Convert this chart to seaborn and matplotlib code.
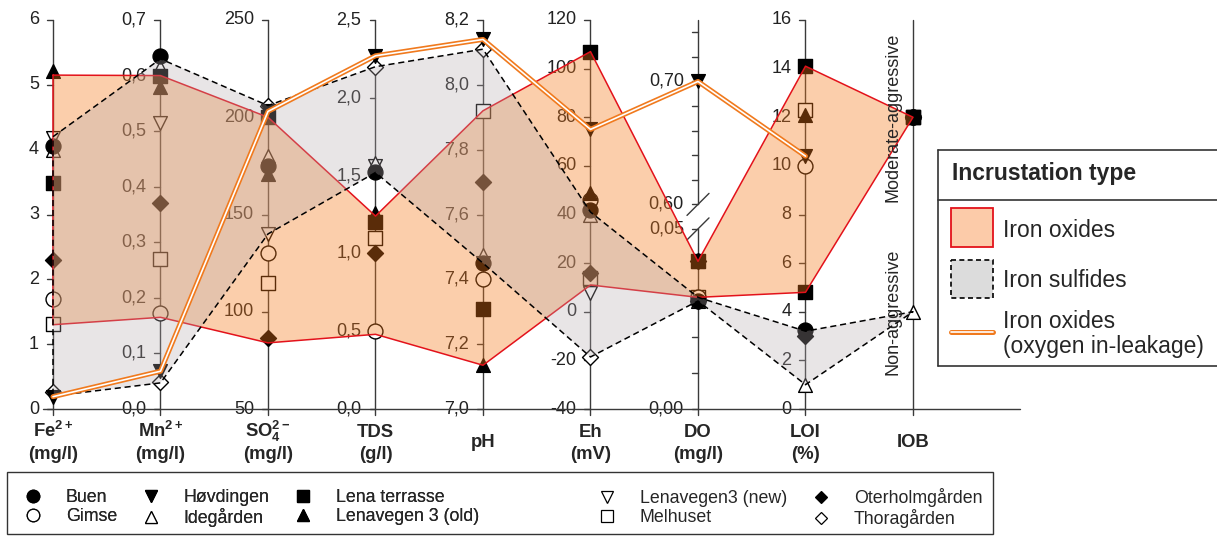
import numpy as np
import matplotlib
matplotlib.use("Agg")
import matplotlib.pyplot as plt
from matplotlib.lines import Line2D
from matplotlib.patches import Rectangle
import seaborn as sns

nan = np.nan

# parallel axes: Fe, Mn, SO4, TDS, pH, Eh, DO, LOI, IOB
axis_top = ["Fe$^{2+}$", "Mn$^{2+}$", "SO$_4^{2-}$", "TDS", "pH", "Eh", "DO", "LOI", "IOB"]
axis_unit = ["(mg/l)", "(mg/l)", "(mg/l)", "(g/l)", "", "(mV)", "(mg/l)", "(%)", ""]
axis_lo = [0, 0.0, 50, 0.0, 7.0, -40, 0.0, 0]
axis_hi = [6, 0.7, 250, 2.5, 8.2, 120, 0.75, 16]
axis_ticks = [
    [0, 1, 2, 3, 4, 5, 6],
    [0.0, 0.1, 0.2, 0.3, 0.4, 0.5, 0.6, 0.7],
    [50, 100, 150, 200, 250],
    [0.0, 0.5, 1.0, 1.5, 2.0, 2.5],
    [7.0, 7.2, 7.4, 7.6, 7.8, 8.0, 8.2],
    [-40, -20, 0, 20, 40, 60, 80, 100, 120],
    [0.00, 0.05, 0.60, 0.70],
    [0, 2, 4, 6, 8, 10, 12, 14, 16],
]
axis_decimals = [0, 1, 0, 1, 1, 0, 2, 0]
do_minor = [0.01, 0.02, 0.03, 0.04, 0.62, 0.64, 0.66, 0.68, 0.72, 0.74]
do_break = (0.05, 0.60)      # DO axis is broken between these values
do_split = (0.463, 0.526)    # axis fraction where the two DO pieces end / start

iob_levels = ["Non-aggressive", "Moderate-aggressive"]
iob_frac = [0.25, 0.75]

# site values on Fe, Mn, SO4, TDS, pH, Eh, DO, LOI
buen = [4.05, 0.635, 175, 1.52, 7.45, 42, 0.030, 3.25]
gimse = [1.70, 0.173, 130, 0.50, 7.40, 46, 0.031, 10.0]
hovdingen = [0.19, 0.068, 203, 2.27, 8.14, 75, 0.70, 10.4]
idegarden = [4.00, 0.615, 180, 1.58, 7.475, 40, 0.030, 1.0]
lena_terrasse = [3.49, 0.600, 200, 1.20, 7.31, 107, 0.041, 14.1]
lenavegen3_old = [5.21, 0.580, 171, 1.26, 7.135, 49, 0.041, 12.1]
lenavegen3_new = [4.18, 0.515, 140, 1.56, 7.45, 7.7, 0.030, nan]
melhuset = [1.31, 0.270, 115, 1.10, 7.92, 14, 0.031, 12.3]
oterholmgarden = [2.30, 0.370, 86.5, 1.00, 7.70, 16, 0.041, 3.0]
thoragarden = [0.26, 0.049, 206, 2.20, 8.11, -18.6, 0.030, nan]

site_names = ["Buen", "Gimse", "Høvdingen", "Idegården", "Lena terrasse",
              "Lenavegen 3 (old)", "Lenavegen3 (new)", "Melhuset",
              "Oterholmgården", "Thoragården"]
site_values = [buen, gimse, hovdingen, idegarden, lena_terrasse,
               lenavegen3_old, lenavegen3_new, melhuset, oterholmgarden, thoragarden]
site_iob = ["Moderate-aggressive", "Moderate-aggressive", "Moderate-aggressive",
            "Non-aggressive", "Moderate-aggressive", "Moderate-aggressive",
            None, "Moderate-aggressive", "Moderate-aggressive", None]
site_markers = ["o", "o", "v", "^", "s", "^", "v", "s", "D", "D"]
site_filled = [True, False, True, False, True, True, False, False, True, False]
# second LOI sample of Lena terrasse
extra_loi = [("Lena terrasse", 4.8)]

# envelopes of the incrustation types
oxide_upper = [5.15, 0.600, 200, 1.24, 7.92, 107, 0.041, 14.1]
oxide_lower = [1.30, 0.165, 84, 0.48, 7.135, 11, 0.031, 4.8]
oxide_iob = "Moderate-aggressive"
sulfide_upper = [4.20, 0.630, 206, 2.20, 8.11, 41, 0.031, 3.2]
sulfide_lower = [0.20, 0.047, 140, 1.52, 7.45, -18.6, 0.030, 1.0]
sulfide_iob = "Non-aggressive"

marker_size = {"o": 115, "s": 92, "^": 98, "v": 98, "D": 66}
legend_ms = {"o": 9, "s": 8, "^": 8.5, "v": 8.5, "D": 6.5}

oxide_fill = "#F57A1B"
oxide_edge = "#E3121B"
sulfide_fill = "#B4AAAF"
leak_color = "#F07A1E"
axis_color = "#3a3a3a"
text_color = "#222222"


def norm(k, val):
    if k == 6:
        if val <= do_break[0]:
            return val / do_break[0] * do_split[0]
        return do_split[1] + (val - do_break[1]) / (axis_hi[6] - do_break[1]) * (1 - do_split[1])
    return (val - axis_lo[k]) / (axis_hi[k] - axis_lo[k])


def profile(values, iob):
    last = iob_frac[iob_levels.index(iob)] if iob else nan
    return [norm(k, v) for k, v in enumerate(values)] + [last]


sns.set_theme(style="white")
plt.rcParams["font.family"] = ["Liberation Sans", "DejaVu Sans"]
plt.rcParams["mathtext.default"] = "regular"

W, H = 1217, 538
fig = plt.figure(figsize=(W / 100, H / 100), dpi=100)
ax = fig.add_axes([0, 0, 1, 1])
X0, DX, Y0, DY = 53, 107.5, 409, 389


def px(xp):
    return (xp - X0) / DX


def py(yp):
    return (Y0 - yp) / DY


# axes, ticks and labels
for k in range(9):
    if k == 6:
        ax.plot([k, k], [py(415), do_split[0]], color=axis_color, lw=1, zorder=1)
        ax.plot([k, k], [do_split[1], 1], color=axis_color, lw=1, zorder=1)
        for s in do_split:
            ax.plot([k - 11 / DX, k + 11 / DX], [s - 11 / DY, s + 11 / DY],
                    color=axis_color, lw=1, zorder=1)
        for t in do_minor:
            ax.plot([k - 6 / DX, k], [norm(k, t)] * 2, color=axis_color, lw=1, zorder=1)
    else:
        ax.plot([k, k], [py(415), 1], color=axis_color, lw=1, zorder=1)
    if k < 8:
        for t in axis_ticks[k]:
            v = norm(k, t)
            ax.plot([k - 6 / DX, k], [v, v], color=axis_color, lw=1, zorder=1)
            lab = f"{t:.{axis_decimals[k]}f}".replace(".", ",")
            ax.text(k - 14 / DX, v, lab, ha="right", va="center", fontsize=13,
                    color=text_color, zorder=1)
    if axis_unit[k]:
        ax.text(k, py(437), axis_top[k], ha="center", va="baseline", fontsize=13.3,
                fontweight="bold")
        ax.text(k, py(459), axis_unit[k], ha="center", va="baseline", fontsize=13.3,
                fontweight="bold")
    else:
        ax.text(k, py(447), axis_top[k], ha="center", va="baseline", fontsize=13.3,
                fontweight="bold")
ax.plot([px(43), px(1020)], [0, 0], color=axis_color, lw=1, zorder=1)

for lvl, fr in zip(iob_levels, iob_frac):
    ax.text(8 - 20 / DX, fr, lvl, rotation=90, ha="center", va="center",
            fontsize=13, zorder=6)

# site markers (open ones first)
open_idx = [i for i in range(10) if not site_filled[i]][::-1]
order = open_idx + [i for i in range(10) if site_filled[i]]
for i in order:
    ys = np.array(profile(site_values[i], site_iob[i]))
    xs = np.arange(9)
    ok = ~np.isnan(ys)
    m = site_markers[i]
    sns.scatterplot(x=xs[ok], y=ys[ok], marker=m, s=marker_size[m],
                    color="black" if site_filled[i] else "white",
                    edgecolor="black", linewidth=1.0, ax=ax, zorder=2, legend=False)
for name, val in extra_loi:
    i = site_names.index(name)
    m = site_markers[i]
    sns.scatterplot(x=[7], y=[norm(7, val)], marker=m, s=marker_size[m],
                    color="black" if site_filled[i] else "white",
                    edgecolor="black", linewidth=1.0, ax=ax, zorder=2, legend=False)

# envelopes
xs_poly = list(range(9)) + list(range(8, -1, -1))
ox_y = profile(oxide_upper, oxide_iob) + profile(oxide_lower, oxide_iob)[::-1]
ax.fill(xs_poly, ox_y, color=oxide_fill, alpha=0.37, lw=0, zorder=3)
ax.plot(xs_poly + [0], ox_y + [ox_y[0]], color=oxide_edge, lw=1.1, zorder=3.1)
su_y = profile(sulfide_upper, sulfide_iob) + profile(sulfide_lower, sulfide_iob)[::-1]
ax.fill(xs_poly, su_y, color=sulfide_fill, alpha=0.3, lw=0, zorder=4)
ax.plot(xs_poly + [0], su_y + [su_y[0]], color="black", lw=1.1,
        ls=(0, (4, 2.5)), zorder=4.1)

# oxygen in-leakage (Høvdingen) as a double line
leak_y = [norm(k, v) for k, v in enumerate(hovdingen)]
sns.lineplot(x=list(range(8)), y=leak_y, sort=False, estimator=None,
             color=leak_color, lw=3.6, zorder=5, ax=ax)
sns.lineplot(x=list(range(8)), y=leak_y, sort=False, estimator=None,
             color="white", lw=1.2, zorder=5.1, ax=ax)

ax.set_xlim(px(0), px(W))
ax.set_ylim(py(H), py(0))
ax.axis("off")

# site legend
handles = [Line2D([], [], ls="none", marker=m, ms=legend_ms[m],
                  mfc="black" if f else "white", mec="black", mew=0.9)
           for m, f in zip(site_markers, site_filled)]
leg_kw = dict(frameon=False, fontsize=12.8, handlelength=1.0, handletextpad=1.35,
              columnspacing=1.4, labelspacing=0.12, borderpad=0, borderaxespad=0,
              loc="center left", bbox_transform=fig.transFigure)
leg1 = fig.legend(handles[:6], site_names[:6], ncol=3,
                  bbox_to_anchor=((33 - 8.9) / W, 1 - 508 / H), **leg_kw)
fig.legend(handles[6:], site_names[6:], ncol=2,
           bbox_to_anchor=((607 - 8.9) / W, 1 - 508 / H), **leg_kw)
fig.add_artist(leg1)
fig.patches.append(Rectangle((7 / W, 1 - 534 / H), (993 - 7) / W, (534 - 472) / H,
                             transform=fig.transFigure, fill=False,
                             ec="#333333", lw=1.0))

# incrustation type legend
lax = fig.add_axes([938 / W, 1 - 366 / H, (1240 - 938) / W, 216 / H])
lax.set_xlim(0, 302)
lax.set_ylim(216, 0)
lax.axis("off")
for xx, yy in [([0, 0], [0, 216]), ([0, 302], [0, 0]), ([0, 302], [216, 216]),
               ([0, 302], [50, 50])]:
    lax.plot(xx, yy, color="#333333", lw=1.2, clip_on=False)
lax.text(14, 30, "Incrustation type", fontsize=16.5, fontweight="bold", va="baseline")
lax.add_patch(Rectangle((13, 58), 42, 39, fc="#FCCBA9", ec=oxide_edge, lw=1.3))
lax.add_patch(Rectangle((13, 110), 42, 38, fc="#DCDCDC", ec="black", lw=1.2,
                        ls=(0, (3, 2))))
lax.plot([13, 55], [182, 182], color=leak_color, lw=3.6)
lax.plot([13, 55], [182, 182], color="white", lw=1.2)
lax.text(65, 87, "Iron oxides", fontsize=16.5, va="baseline")
lax.text(65, 137, "Iron sulfides", fontsize=16.5, va="baseline")
lax.text(65, 178, "Iron oxides", fontsize=16.5, va="baseline")
lax.text(65, 203, "(oxygen in-leakage)", fontsize=16.5, va="baseline")

fig.savefig("out.png", dpi=100)
